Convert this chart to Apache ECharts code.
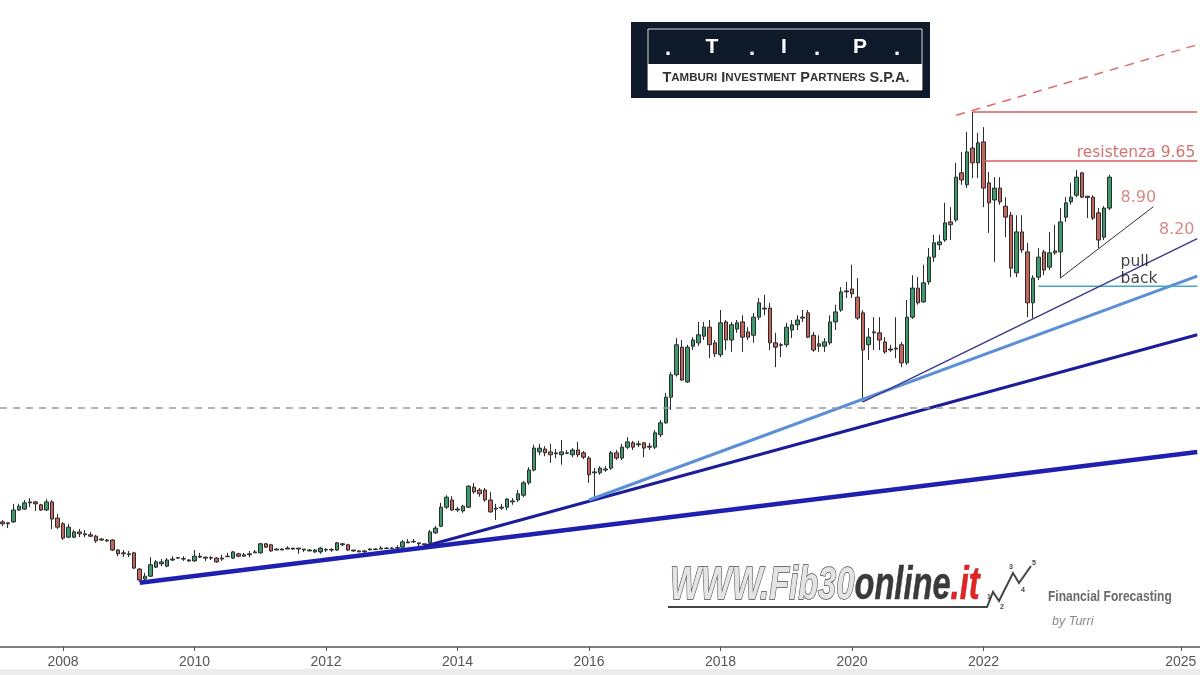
<!DOCTYPE html>
<html>
<head>
<meta charset="utf-8">
<script src="https://cdn.jsdelivr.net/npm/echarts@6/dist/echarts.min.js"></script>
<style>
html,body{margin:0;padding:0;background:#fff;}
#chart{width:1200px;height:675px;}
</style>
</head>
<body>
<div id="chart"></div>
<script>
// ---- time categories (monthly candles, first = Feb 2007) ----
const startYear = 2007;
const startMonth = 2;
const monthCount = 219;
const tickYears = [2008, 2010, 2012, 2014, 2016, 2018, 2020, 2022, 2025];

// ---- monthly candles [open, close, low, high] (EUR) ----
const ohlc = [
[2.07,2.03,1.98,2.11],[2.05,2.03,1.94,2.06],[2.07,2.32,2.05,2.45],[2.32,2.40,2.30,2.45],[2.34,2.47,2.32,2.53],
[2.47,2.49,2.38,2.57],[2.49,2.45,2.30,2.51],[2.43,2.32,2.30,2.45],[2.32,2.49,2.30,2.55],[2.49,2.13,1.92,2.53],
[2.15,1.96,1.92,2.24],[2.03,1.73,1.69,2.07],[1.75,1.96,1.73,2.03],[1.75,1.86,1.73,1.90],[1.86,1.82,1.75,1.92],
[1.82,1.80,1.75,1.90],[1.80,1.77,1.75,1.86],[1.77,1.67,1.63,1.80],[1.71,1.69,1.67,1.73],[1.69,1.67,1.65,1.71],
[1.69,1.48,1.46,1.71],[1.48,1.40,1.35,1.50],[1.42,1.40,1.33,1.48],[1.40,1.38,1.33,1.46],[1.42,1.10,1.08,1.44],
[1.08,0.85,0.81,1.10],[0.87,0.93,0.79,1.00],[0.93,1.17,0.91,1.33],[1.12,1.23,1.10,1.27],[1.19,1.23,1.14,1.29],
[1.14,1.27,1.12,1.31],[1.27,1.29,1.25,1.35],[1.31,1.32,1.29,1.33],[1.29,1.30,1.25,1.35],[1.27,1.25,1.23,1.29],
[1.25,1.35,1.23,1.48],[1.33,1.35,1.31,1.42],[1.33,1.31,1.25,1.34],[1.31,1.32,1.27,1.35],[1.31,1.23,1.21,1.33],
[1.29,1.31,1.25,1.38],[1.35,1.34,1.33,1.42],[1.31,1.44,1.29,1.46],[1.40,1.35,1.33,1.42],[1.35,1.38,1.35,1.42],
[1.38,1.40,1.33,1.46],[1.42,1.44,1.42,1.48],[1.42,1.61,1.40,1.63],[1.61,1.54,1.52,1.63],[1.59,1.46,1.44,1.61],
[1.50,1.48,1.48,1.52],[1.48,1.50,1.48,1.52],[1.50,1.52,1.50,1.56],[1.52,1.50,1.48,1.52],[1.52,1.50,1.40,1.52],
[1.50,1.48,1.44,1.50],[1.46,1.48,1.46,1.50],[1.44,1.48,1.42,1.50],[1.44,1.52,1.40,1.54],[1.48,1.49,1.44,1.52],
[1.48,1.49,1.44,1.52],[1.48,1.63,1.46,1.65],[1.61,1.59,1.56,1.63],[1.59,1.48,1.46,1.61],[1.48,1.46,1.44,1.48],
[1.44,1.46,1.44,1.48],[1.46,1.44,1.42,1.48],[1.48,1.50,1.48,1.52],[1.50,1.49,1.48,1.52],[1.50,1.52,1.50,1.56],
[1.52,1.51,1.50,1.54],[1.51,1.52,1.50,1.54],[1.52,1.53,1.50,1.58],[1.54,1.65,1.52,1.69],[1.63,1.65,1.63,1.71],
[1.65,1.66,1.63,1.71],[1.63,1.61,1.56,1.63],[1.61,1.59,1.54,1.61],[1.63,1.86,1.61,1.90],[1.84,1.94,1.82,1.98],
[1.98,2.38,1.96,2.47],[2.38,2.59,2.34,2.63],[2.53,2.32,2.30,2.61],[2.32,2.34,2.28,2.38],[2.30,2.40,2.26,2.43],
[2.38,2.82,2.36,2.84],[2.80,2.70,2.66,2.89],[2.74,2.66,2.60,2.78],[2.74,2.53,2.49,2.78],[2.53,2.28,2.26,2.70],
[2.34,2.36,2.11,2.45],[2.36,2.38,2.32,2.45],[2.38,2.55,2.32,2.57],[2.49,2.51,2.43,2.57],[2.53,2.66,2.49,2.74],
[2.63,2.89,2.59,2.93],[2.89,3.16,2.85,3.22],[3.16,3.62,3.13,3.69],[3.54,3.62,3.47,3.71],[3.60,3.52,3.45,3.66],
[3.54,3.48,3.31,3.71],[3.50,3.52,3.41,3.60],[3.48,3.54,3.27,3.79],[3.52,3.51,3.50,3.58],[3.48,3.58,3.43,3.62],
[3.58,3.48,3.43,3.75],[3.52,3.43,3.39,3.56],[3.41,3.06,2.89,3.45],[3.10,3.12,2.57,3.20],[3.10,3.20,3.06,3.24],
[3.16,3.18,3.12,3.24],[3.20,3.52,3.16,3.56],[3.52,3.41,3.37,3.58],[3.41,3.64,3.37,3.71],[3.64,3.75,3.60,3.85],
[3.73,3.64,3.58,3.77],[3.69,3.71,3.64,3.77],[3.73,3.62,3.43,3.75],[3.64,3.66,3.58,3.73],[3.64,3.94,3.60,4.00],
[3.90,4.15,3.85,4.21],[4.15,4.69,4.13,4.78],[4.69,5.16,4.42,5.22],[5.16,5.79,5.12,5.93],[5.74,5.05,5.03,5.89],
[5.01,5.74,4.99,5.79],[5.76,5.89,5.68,5.95],[5.83,6.00,5.76,6.27],[5.97,6.16,5.89,6.27],[6.16,5.79,5.51,6.31],
[5.83,5.60,5.53,5.89],[5.58,6.25,5.53,6.52],[6.27,5.89,5.68,6.31],[5.89,6.21,5.64,6.27],[6.12,6.25,6.04,6.31],
[6.27,5.95,5.64,6.41],[6.06,5.95,5.89,6.16],[5.99,6.37,5.83,6.46],[6.37,6.67,6.31,6.77],[6.54,6.56,6.41,6.84],
[6.56,5.83,5.68,6.67],[5.83,5.74,5.32,6.04],[5.79,5.78,5.53,5.83],[5.79,6.16,5.74,6.25],[6.10,6.21,5.93,6.31],
[6.21,6.31,6.10,6.41],[6.35,6.37,6.27,6.52],[6.46,5.95,5.93,6.52],[5.99,5.68,5.64,6.06],[5.76,5.81,5.64,5.99],
[5.76,5.85,5.64,5.93],[5.83,6.27,5.79,6.41],[6.27,6.48,6.10,6.63],[6.52,6.90,6.48,7.00],[6.90,6.92,6.77,7.11],
[6.96,6.86,6.77,7.47],[6.79,6.35,6.31,7.19],[6.46,5.68,4.59,6.52],[5.79,5.95,5.47,6.14],[6.04,6.06,5.68,6.37],
[6.04,5.89,5.68,6.37],[5.85,5.64,5.60,5.95],[5.70,5.68,5.64,5.79],[5.70,5.72,5.51,6.37],[5.79,5.41,5.32,5.85],
[5.41,6.37,5.37,6.73],[6.37,6.98,6.33,7.25],[6.98,6.67,6.63,7.21],[6.69,7.09,6.67,7.47],[7.11,7.63,7.05,7.82],
[7.63,7.93,7.53,8.10],[7.89,7.95,7.78,8.10],[7.99,8.35,7.95,8.77],[8.37,8.31,7.99,8.68],[8.41,9.31,8.37,9.61],
[9.40,9.25,9.15,9.84],[9.15,9.84,9.08,10.26],[9.92,9.61,9.29,10.68],[9.61,10.03,9.29,10.24],[10.05,9.08,8.68,10.36],
[9.19,8.77,8.14,9.42],[8.83,9.08,7.53,9.31],[9.08,8.79,8.73,9.31],[8.70,8.47,8.05,8.89],[8.51,7.40,7.21,8.58],
[7.30,8.16,7.21,8.51],[8.16,7.78,7.72,8.51],[7.74,6.67,6.37,7.93],[6.67,7.19,6.35,7.25],[7.21,7.63,7.15,7.82],
[7.74,7.36,7.25,7.78],[7.42,7.72,7.36,8.16],[7.72,7.76,7.68,8.31],[7.74,8.37,7.19,8.66],[8.47,8.77,8.37,8.89],
[8.79,8.89,8.73,9.19],[8.93,9.31,8.89,9.46],[9.40,8.89,8.87,9.42],[8.91,8.88,8.45,8.91],[8.89,8.45,8.41,8.93],
[8.56,7.99,7.82,8.66],[8.05,8.66,7.99,8.70],[8.66,9.31,8.62,9.36]
];

// ---- drawn lines: [startIndex, startPrice, endIndex, endPrice] ----
const lineTrend2009   = [25, 0.79, 218, 3.54];
const lineTrend2013   = [77, 1.56, 218, 6.00];
const lineTrend2016   = [107, 2.53, 218, 7.23];
const lineTrend2020   = [157, 4.59, 218, 8.02];
const lineShortTrend  = [193, 7.19, 210, 8.69];
const lineChannelTop  = [174, 10.61, 218, 12.09];
const lineAth         = [177, 10.68, 218, 10.68];
const lineResistance  = [179, 9.65, 218, 9.65];
const linePullback    = [189, 7.02, 218, 7.02];
const greyLevel = 4.46;

// ---- annotation texts: [text, index, price] ----
const notes = [
  ['resistenza 9.65', 196, 9.82],
  ['8.90', 204, 8.87],
  ['8.20', 211, 8.20],
  ['pull', 204, 7.53],
  ['back', 204, 7.17]
];

// ------------------------------------------------------------
const cats = [];
for (let k = 0; k < monthCount; k++) {
  const m0 = startMonth - 1 + k;
  const y = startYear + Math.floor(m0 / 12);
  const m = (m0 % 12) + 1;
  cats.push(y + '-' + (m < 10 ? '0' + m : '' + m));
}
const isTick = (idx, val) => val.slice(5) === '01' && tickYears.indexOf(+val.slice(0, 4)) >= 0;

function seg(arr) { return [[cats[arr[0]], arr[1]], [cats[arr[2]], arr[3]]]; }
function lineSeries(arr, color, width, type, z) {
  return {
    type: 'line', data: seg(arr), symbol: 'none', silent: true, animation: false, z: z || 3,
    lineStyle: { color: color, width: width, type: type || 'solid' }
  };
}
const noteStyles = [
  { color: '#c4504c', size: 15.5 },
  { color: '#d06a68', size: 16 },
  { color: '#d06a68', size: 16 },
  { color: '#111', size: 15.5 },
  { color: '#111', size: 15.5 }
];

const series = [
  {
    type: 'candlestick', data: ohlc, barWidth: 4, z: 2, animation: false, silent: true,
    itemStyle: { color: '#3d9a6c', color0: '#c4665c', borderColor: '#2b2b2b', borderColor0: '#2b2b2b', borderWidth: 1 },
    markLine: {
      silent: true, symbol: 'none', animation: false,
      label: { show: false },
      lineStyle: { color: '#9a9a9a', type: [7, 6], width: 1.5 },
      data: [{ yAxis: greyLevel }]
    }
  },
  lineSeries(lineTrend2009, '#1f1fb0', 4.5),
  lineSeries(lineTrend2013, '#1d1d9a', 3),
  lineSeries(lineTrend2016, '#5b8fd6', 3),
  lineSeries(lineTrend2020, '#3b3b8c', 1.5, 'solid', 4),
  lineSeries(lineShortTrend, '#333', 1, 'solid', 4),
  lineSeries(lineChannelTop, '#e06a6a', 1.5, [9, 7]),
  lineSeries(lineAth, '#d45c5c', 1.5),
  lineSeries(lineResistance, '#d45c5c', 1.5),
  lineSeries(linePullback, '#44a8c2', 1.5)
];
notes.forEach((n, k) => {
  series.push({
    type: 'scatter', data: [[cats[n[1]], n[2]]], symbolSize: 1, silent: true, animation: false, z: 6,
    itemStyle: { color: 'rgba(0,0,0,0)' },
    label: {
      show: true, position: 'inside', align: 'left', verticalAlign: 'middle',
      formatter: n[0], color: noteStyles[k].color, fontSize: noteStyles[k].size,
      fontFamily: '"DejaVu Sans", sans-serif'
    }
  });
});

// ---- decorative logos ----
const sansB = '"Liberation Sans", Arial, sans-serif';
function txt(x, y, text, font, fill, align, extra, sx) {
  const st = Object.assign({ text: text, font: font, fill: fill,
    textAlign: align || 'center', align: align || 'center',
    textVerticalAlign: 'middle', verticalAlign: 'middle' }, extra || {});
  return { type: 'text', x: x, y: y, scaleX: sx || 1, silent: true, style: st, z: 100 };
}
const logoFont = 'italic bold 46px ' + sansB;
const graphic = [
  { type: 'rect', shape: { x: 0, y: 669, width: 1200, height: 6 }, style: { fill: '#ececec' }, silent: true, z: 0 },
  // T.I.P. logo
  { type: 'rect', shape: { x: 631, y: 22, width: 299, height: 76 }, style: { fill: '#0e1a2a' }, silent: true, z: 100 },
  { type: 'rect', shape: { x: 648, y: 29, width: 274, height: 61 }, style: { fill: 'none', stroke: '#d8d8d8', lineWidth: 1 }, silent: true, z: 100 },
  { type: 'rect', shape: { x: 648, y: 64, width: 274, height: 26 }, style: { fill: '#ffffff' }, silent: true, z: 100 },
  txt(668, 49, '.', 'bold 22px ' + sansB, '#fff'),
  txt(712, 47, 'T', 'bold 21px ' + sansB, '#fff'),
  txt(752, 49, '.', 'bold 22px ' + sansB, '#fff'),
  txt(784, 47, 'I', 'bold 21px ' + sansB, '#fff'),
  txt(817, 49, '.', 'bold 22px ' + sansB, '#fff'),
  txt(860, 47, 'P', 'bold 21px ' + sansB, '#fff'),
  txt(897, 49, '.', 'bold 22px ' + sansB, '#fff'),
  txt(786, 78, 'T{s|AMBURI} I{s|NVESTMENT} P{s|ARTNERS} S.P.A.', 'bold 14.5px ' + sansB, '#333', 'center',
      { rich: { s: { font: 'bold 11.5px ' + sansB, fill: '#333' } } }),
  // Fib30online logo
  txt(670, 586, '{a|WWW.Fib30}{b|online}{c|.it}', logoFont, '#ddd', 'left',
      { rich: {
          a: { font: logoFont, fill: '#e4e4e4', stroke: '#4a4a4a', lineWidth: 1.5 },
          b: { font: logoFont, fill: '#3a3a3a', stroke: '#3a3a3a', lineWidth: 0.5 },
          c: { font: logoFont, fill: '#e02424', stroke: '#b01010', lineWidth: 0.5 }
      } }, 0.71),
  { type: 'polyline', shape: { points: [[668, 607], [987, 607], [993, 592], [999, 601], [1013, 573], [1019, 583], [1031, 566]] },
    style: { stroke: '#444', lineWidth: 2, fill: 'none' }, silent: true, z: 100 },
  txt(989, 597, '1', 'bold 7px sans-serif', '#444'),
  txt(1002, 607, '2', 'bold 7px sans-serif', '#444'),
  txt(1011, 567, '3', 'bold 7px sans-serif', '#444'),
  txt(1023, 590, '4', 'bold 7px sans-serif', '#444'),
  txt(1034, 563, '5', 'bold 7px sans-serif', '#444'),
  txt(1048, 597, 'Financial Forecasting', 'bold 14px ' + sansB, '#6a6a6a', 'left', null, 0.86),
  txt(1052, 622, 'by Turri', 'italic 12.5px ' + sansB, '#8a8a8a', 'left')
];

const chart = echarts.init(document.getElementById('chart'), null, { renderer: 'canvas' });
chart.setOption({
  backgroundColor: '#ffffff',
  animation: false,
  grid: { left: -1, right: -4.5, top: 0, bottom: 28, containLabel: false },
  xAxis: {
    type: 'category', data: cats, boundaryGap: true,
    axisLine: { show: true, onZero: false, lineStyle: { color: '#555', width: 1.5 } },
    axisTick: { show: true, interval: isTick, alignWithLabel: true, length: 4, lineStyle: { color: '#555' } },
    axisLabel: {
      interval: isTick, formatter: v => v.slice(0, 4), color: '#555', fontSize: 14,
      fontFamily: sansB, margin: 8
    },
    splitLine: { show: false }
  },
  yAxis: { type: 'value', min: -0.557, max: 13.03, show: false, splitLine: { show: false } },
  series: series,
  graphic: graphic
});
</script>
</body>
</html>
